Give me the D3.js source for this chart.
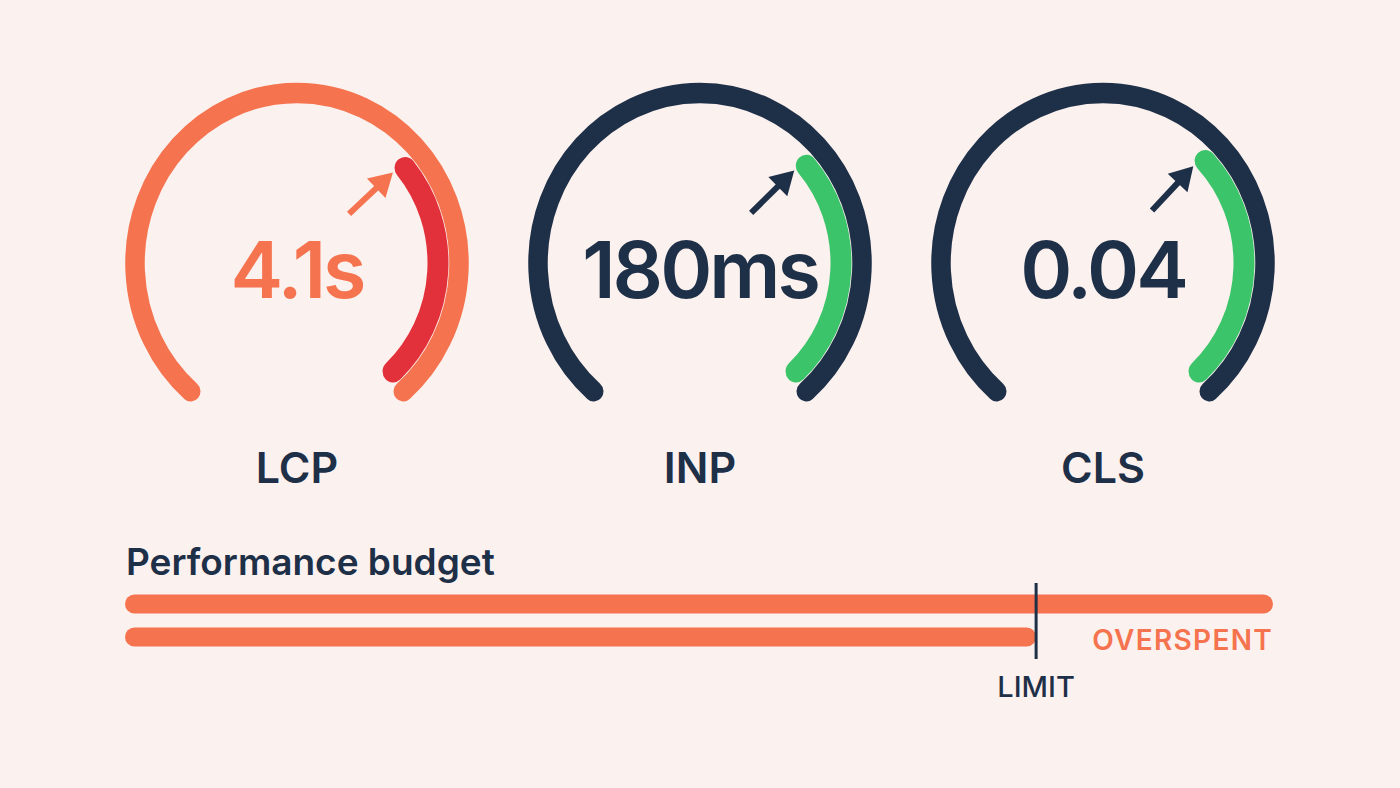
<!DOCTYPE html>
<html>
<head>
<meta charset="utf-8">
<script src="https://cdn.jsdelivr.net/npm/d3@7"></script>
<style>
  html, body { margin: 0; padding: 0; background: #FBF1EE; }
  svg { display: block; }
  text { font-family: Inter, "Noto Sans", sans-serif; }
</style>
</head>
<body>
<svg id="chart" width="1400" height="788"></svg>
<script>
// ---- data ----
const metrics = ["LCP", "INP", "CLS"];
const valueLabels = ["4.1s", "180ms", "0.04"];
const status = ["poor", "good", "good"];
// position on the gauge (0 = start of track, 1 = end) where the highlighted zone begins / ends
const zoneStart = [0.68, 0.676, 0.667];
const zoneEnd = [0.993, 0.993, 0.993];

const budgetTitle = "Performance budget";
const budgetLimit = 100;
const budgetSpent = 126;
const limitLabel = "LIMIT";
const overLabel = "OVERSPENT";

// ---- styles ----
const C = {
  navy: "#1E2F48",
  orange: "#F5734E",
  red: "#E2313A",
  green: "#3CC46A"
};
const trackColor = { poor: C.orange, good: C.navy };
const zoneColor = { poor: C.red, good: C.green };
const textColor = { poor: C.orange, good: C.navy };

const svg = d3.select("#chart");
svg.append("rect").attr("width", 1400).attr("height", 788).attr("fill", "#FBF1EE");

// ---- gauges ----
const xGauge = d3.scalePoint().domain(metrics).range([297, 1103]);
const cy = 263;
const angle = d3.scaleLinear().domain([0, 1]).range([-139 * Math.PI / 180, 139 * Math.PI / 180]);
const R = 162, trackW = 19.5, zoneR = 141, zoneW = 21;
const yStretch = 1.05;

// open arc path (clockwise from 12 o'clock convention)
function openArc(r, a0, a1) {
  const p = d3.path();
  p.arc(0, 0, r, a0 - Math.PI / 2, a1 - Math.PI / 2, false);
  return p.toString();
}

metrics.forEach((m, i) => {
  const cx = xGauge(m);
  const st = status[i];
  const g = svg.append("g").attr("transform", `translate(${cx},${cy}) scale(1,${yStretch})`);

  // track
  g.append("path")
    .attr("d", openArc(R, angle(0), angle(1)))
    .attr("fill", "none")
    .attr("stroke", trackColor[st])
    .attr("stroke-width", trackW)
    .attr("stroke-linecap", "round");

  // zone
  g.append("path")
    .attr("d", openArc(zoneR, angle(zoneStart[i]), angle(zoneEnd[i])))
    .attr("fill", "none")
    .attr("stroke", zoneColor[st])
    .attr("stroke-width", zoneW)
    .attr("stroke-linecap", "round");

  // arrow pointing at zone start
  const a = angle(zoneStart[i]) - 2 * Math.PI / 180;
  const r0 = 70, r1 = 129;
  const p = r => [r * Math.sin(a), -r * Math.cos(a) * yStretch];
  const [x0, y0] = p(r0), [x1, y1] = p(r1);
  const dx = x1 - x0, dy = y1 - y0, L = Math.hypot(dx, dy);
  const ux = dx / L, uy = dy / L;
  const headL = 23, headW = 13.5;
  const bx = x1 - ux * headL, by = y1 - uy * headL;
  const ag = svg.append("g").attr("transform", `translate(${cx},${cy})`);
  ag.append("line")
    .attr("x1", x0).attr("y1", y0)
    .attr("x2", bx + ux * 2).attr("y2", by + uy * 2)
    .attr("stroke", textColor[st]).attr("stroke-width", 6);
  ag.append("path")
    .attr("d", `M${x1},${y1}L${bx - uy * headW},${by + ux * headW}L${bx + uy * headW},${by - ux * headW}Z`)
    .attr("fill", textColor[st]);

  // value text
  svg.append("text")
    .attr("x", cx).attr("y", 298)
    .attr("text-anchor", "middle")
    .attr("font-size", 79)
    .attr("font-weight", 600)
    .attr("letter-spacing", -3)
    .attr("fill", textColor[st])
    .text(valueLabels[i]);

  // metric label
  svg.append("text")
    .attr("x", cx).attr("y", 483)
    .attr("text-anchor", "middle")
    .attr("font-size", 43)
    .attr("font-weight", 600)
    .attr("fill", C.navy)
    .text(m);
});

// ---- budget bars ----
const xB = d3.scaleLinear().domain([0, budgetSpent]).range([125, 1273]);
const barH = 19;
const barRows = ["spent", "limit"];
const yB = d3.scalePoint().domain(barRows).range([604, 637]);
const barEnd = { spent: budgetSpent, limit: budgetLimit };

svg.append("text")
  .attr("x", 126).attr("y", 575)
  .attr("font-size", 37)
  .attr("font-weight", 600)
  .attr("fill", C.navy)
  .text(budgetTitle);

svg.selectAll("rect.bar").data(barRows).join("rect")
  .attr("class", "bar")
  .attr("x", xB(0))
  .attr("y", d => yB(d) - barH / 2)
  .attr("width", d => xB(barEnd[d]) - xB(0))
  .attr("height", barH)
  .attr("rx", barH / 2)
  .attr("fill", C.orange);

svg.append("line")
  .attr("x1", xB(budgetLimit)).attr("x2", xB(budgetLimit))
  .attr("y1", 583).attr("y2", 659)
  .attr("stroke", C.navy).attr("stroke-width", 3);

svg.append("text")
  .attr("x", xB(budgetLimit)).attr("y", 697)
  .attr("text-anchor", "middle")
  .attr("font-size", 29)
  .attr("font-weight", 500)
  .attr("fill", C.navy)
  .text(limitLabel);

svg.append("text")
  .attr("x", xB(budgetSpent)).attr("y", 650)
  .attr("text-anchor", "end")
  .attr("font-size", 28)
  .attr("font-weight", 600)
  .attr("letter-spacing", 1.3)
  .attr("fill", C.orange)
  .text(overLabel);
</script>
</body>
</html>
